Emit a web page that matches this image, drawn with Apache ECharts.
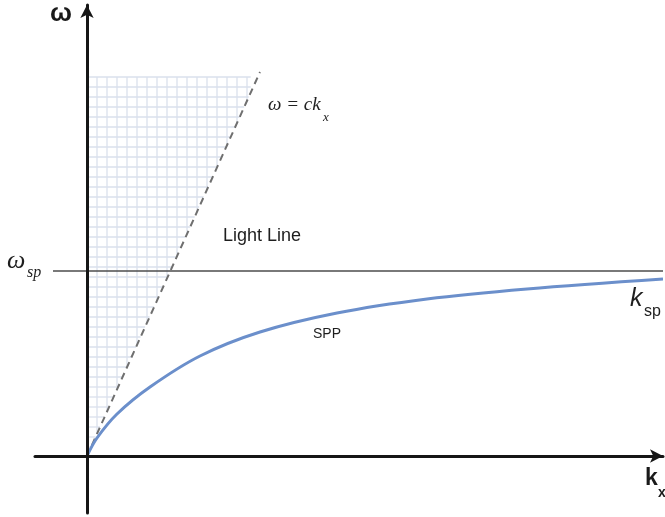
<!DOCTYPE html>
<html>
<head>
<meta charset="utf-8">
<script src="https://cdn.jsdelivr.net/npm/echarts@6/dist/echarts.min.js"></script>
<style>
  html, body { margin: 0; padding: 0; background: #fff; }
  #chart { width: 665px; height: 517px; }
</style>
</head>
<body>
<div id="chart"></div>
<script>
// Surface plasmon polariton dispersion sketch (arbitrary units: wavevector k_x vs frequency ω)

// SPP branch: wavevector samples and frequencies
const sppK = [0, 10, 30, 63, 113, 173, 250, 340, 440, 576];
const sppW = [0, 18, 42, 69, 100, 124, 143, 157, 167, 177];

// Light line ω = c·k_x (end points)
const lightK = [0, 173];
const lightW = [0, 384];

// Surface plasmon frequency level ω_sp and the extent of its guide line
const omegaSp = 185;
const omegaSpK = [-34, 576];

// Hatched region (light cone interior) top level and grid step
const coneTop = 379;
const hatchStep = 10;

// Axis ranges
const kRange = [-52, 576];
const wRange = [-57, 451];

const chart = echarts.init(document.getElementById('chart'), null, { renderer: 'canvas' });

const slope = (lightK[1] - lightK[0]) / (lightW[1] - lightW[0]); // k per unit ω on the light line

function hatchRender(params, api) {
  const children = [];
  const style = { stroke: '#dae0ec', lineWidth: 1.3 };
  // vertical grid lines: from the light line up to the top of the region
  for (let k = hatchStep; k <= coneTop * slope - 6; k += hatchStep) {
    const p0 = api.coord([k, k / slope]);
    const p1 = api.coord([k, coneTop]);
    children.push({ type: 'line', shape: { x1: p0[0], y1: p0[1], x2: p1[0], y2: p1[1] }, style: style });
  }
  // horizontal grid lines: from the ω axis out to the light line
  for (let w = coneTop; w > 0; w -= hatchStep) {
    const p0 = api.coord([0, w]);
    const p1 = api.coord([Math.min(w * slope, coneTop * slope - 7), w]);
    children.push({ type: 'line', shape: { x1: p0[0], y1: p0[1], x2: p1[0], y2: p1[1] }, style: style });
  }
  return { type: 'group', children: children };
}

const axisCommon = {
  type: 'value',
  z: 10,
  axisTick: { show: false },
  axisLabel: { show: false },
  splitLine: { show: false },
  axisLine: {
    show: true,
    onZero: true,
    symbol: ['none', 'arrow'],
    symbolSize: [10, 13],
    lineStyle: { color: '#161616', width: 3 }
  }
};

const option = {
  backgroundColor: '#ffffff',
  animation: false,
  grid: { left: 35, right: 2, top: 5, bottom: 4, containLabel: false },
  xAxis: Object.assign({}, axisCommon, { min: kRange[0], max: kRange[1] }),
  yAxis: Object.assign({}, axisCommon, { min: wRange[0], max: wRange[1] }),
  series: [
    {
      name: 'cone',
      type: 'custom',
      renderItem: hatchRender,
      data: [[0, 0]],
      silent: true,
      z: 1
    },
    {
      name: 'ω_sp',
      type: 'line',
      data: omegaSpK.map(k => [k, omegaSp]),
      symbol: 'none',
      lineStyle: { color: '#4d4d4d', width: 1.6 },
      silent: true,
      z: 2
    },
    {
      name: 'Light Line',
      type: 'line',
      data: lightK.map((k, i) => [k, lightW[i]]),
      symbol: 'none',
      lineStyle: { color: '#6f6f6f', width: 2, type: [7, 5] },
      silent: true,
      z: 3
    },
    {
      name: 'SPP',
      type: 'line',
      data: sppK.map((k, i) => [k, sppW[i]]),
      symbol: 'none',
      smooth: 0.35,
      lineStyle: { color: '#6b8fcb', width: 3 },
      silent: true,
      z: 4
    }
  ],
  graphic: [
    { type: 'text', left: 50, top: 1, style: { text: 'ω', font: 'bold 26px "Liberation Sans", Arial, sans-serif', fill: '#1a1a1a' } },
    { type: 'text', x: 268, y: 105, style: { text: 'ω = ck', font: 'italic 19px "Liberation Serif", "Times New Roman", serif', fill: '#222', verticalAlign: 'middle' } },
    { type: 'text', x: 323, y: 118, style: { text: 'x', font: 'italic 13px "Liberation Serif", "Times New Roman", serif', fill: '#222', verticalAlign: 'middle' } },
    { type: 'text', x: 223, y: 236, style: { text: 'Light Line', font: '18px "Liberation Sans", Arial, sans-serif', fill: '#1e1e1e', verticalAlign: 'middle' } },
    { type: 'text', x: 313, y: 334, style: { text: 'SPP', font: '14px "Liberation Sans", Arial, sans-serif', fill: '#1e1e1e', verticalAlign: 'middle' } },
    { type: 'text', x: 7, y: 261, style: { text: 'ω', font: 'italic 26px "Liberation Serif", "Times New Roman", serif', fill: '#1e1e1e', verticalAlign: 'middle' } },
    { type: 'text', x: 27, y: 273, style: { text: 'sp', font: 'italic 16px "Liberation Serif", "Times New Roman", serif', fill: '#1e1e1e', verticalAlign: 'middle' } },
    { type: 'text', x: 630, y: 299, style: { text: 'k', font: 'italic 25px "Liberation Sans", Arial, sans-serif', fill: '#1e1e1e', verticalAlign: 'middle' } },
    { type: 'text', x: 644, y: 312, style: { text: 'sp', font: '16px "Liberation Sans", Arial, sans-serif', fill: '#1e1e1e', verticalAlign: 'middle' } },
    { type: 'text', x: 645, y: 479, style: { text: 'k', font: 'bold 23px "Liberation Sans", Arial, sans-serif', fill: '#1a1a1a', verticalAlign: 'middle' } },
    { type: 'text', x: 658, y: 493, style: { text: 'x', font: 'bold 14px "Liberation Sans", Arial, sans-serif', fill: '#1a1a1a', verticalAlign: 'middle' } }
  ]
};

chart.setOption(option);
</script>
</body>
</html>
